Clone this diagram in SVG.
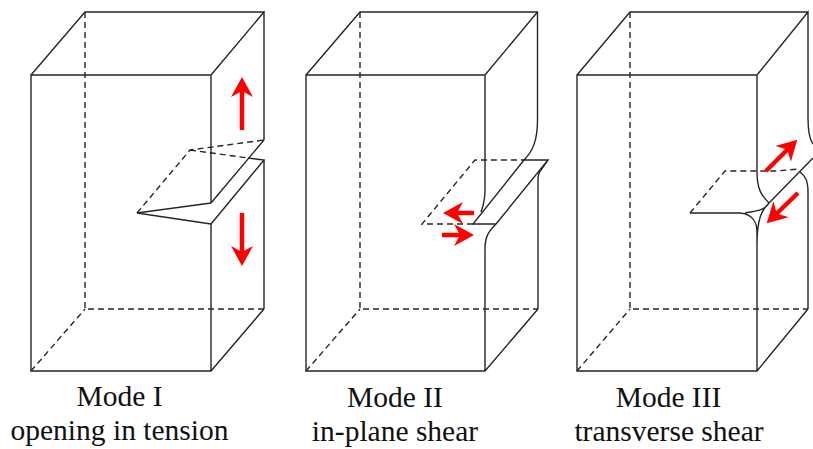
<svg xmlns="http://www.w3.org/2000/svg" width="813" height="449" viewBox="0 0 813 449">
<style>
.s{fill:none;stroke:#262626;stroke-width:1.4;stroke-linejoin:miter}
.d{fill:none;stroke:#262626;stroke-width:1.4;stroke-dasharray:6 4}
.a{fill:none;stroke:#ff0000;stroke-width:4.500;stroke-linecap:butt;stroke-linejoin:miter;marker-end:url(#h)}
text{font-family:"Liberation Serif","Times New Roman",serif;font-size:29.500px;fill:#111;text-anchor:middle}
</style>
<defs>
<marker id="h" markerUnits="userSpaceOnUse" markerWidth="24" markerHeight="24" viewBox="0 0 24 24" refX="14" refY="12" orient="auto" overflow="visible">
<path d="M0 1L20 12L0 23L6 12Z" fill="#ff0000"/>
</marker>
</defs>
<rect width="813" height="449" fill="#fff"/>
<g id="connectors"></g>
<g id="mode1">
<path class="s" d="M211 203V75H31V371H211V224M31 75L85 12H264L211 75M264 12V140M264 160V309M211 371L264 309"/>
<path class="d" d="M85 12V309H264M31 371L85 309"/>
<path class="s" d="M211 203L137 213L211 224M211 203L264 140M211 224L264 160L248 158"/>
<path class="d" d="M137 213L190 150L264 140M190 150L248 158"/>
<path class="a" d="M242 130V83"/>
<path class="a" d="M242 213V260"/>
<text x="119.500" y="406">Mode I</text>
<text x="119.500" y="440">opening in tension</text>
</g>
<g id="mode2">
<path class="s" d="M481 212C484 204 485 200 485 190V75H306V371H485V250C485 238 487 233 496 224H473L524 160C533 151 537.500 140 537.500 120V12H360L306 75M485 75L537.500 12M524 160H548L496 224M548 160L541 170C538 173 538 176 538 180V309M485 371L538 309"/>
<path class="d" d="M360 12V309H538M306 371L360 309M473 224H422L475 160H524"/>
<path class="a" d="M474 213H449"/>
<path class="a" d="M442 235H468"/>
<text x="395" y="407">Mode II</text>
<text x="395" y="441">in-plane shear</text>
</g>
<g id="mode3">
<path class="s" d="M769 203C762 196 757 190 757 172V75H577V371H757V232C757 222 752 214 740 213H690M577 75L630 12H808M757 75L808 12V118C808 132 810 140 813 144M769 203L813 158M769 203C765 211 754 211 745 213M769 203C762 210 757 218 757 245M800 172C805 176 808 180 808 192V309M757 371L808 309"/>
<path class="d" d="M630 12V309H808M577 371L630 309M690 213L725 171H775L800 169"/>
<path class="a" d="M766 171L793 144"/>
<path class="a" d="M798 193L771 219"/>
<text x="668.500" y="407">Mode III</text>
<text x="669" y="441">transverse shear</text>
</g>
</svg>
